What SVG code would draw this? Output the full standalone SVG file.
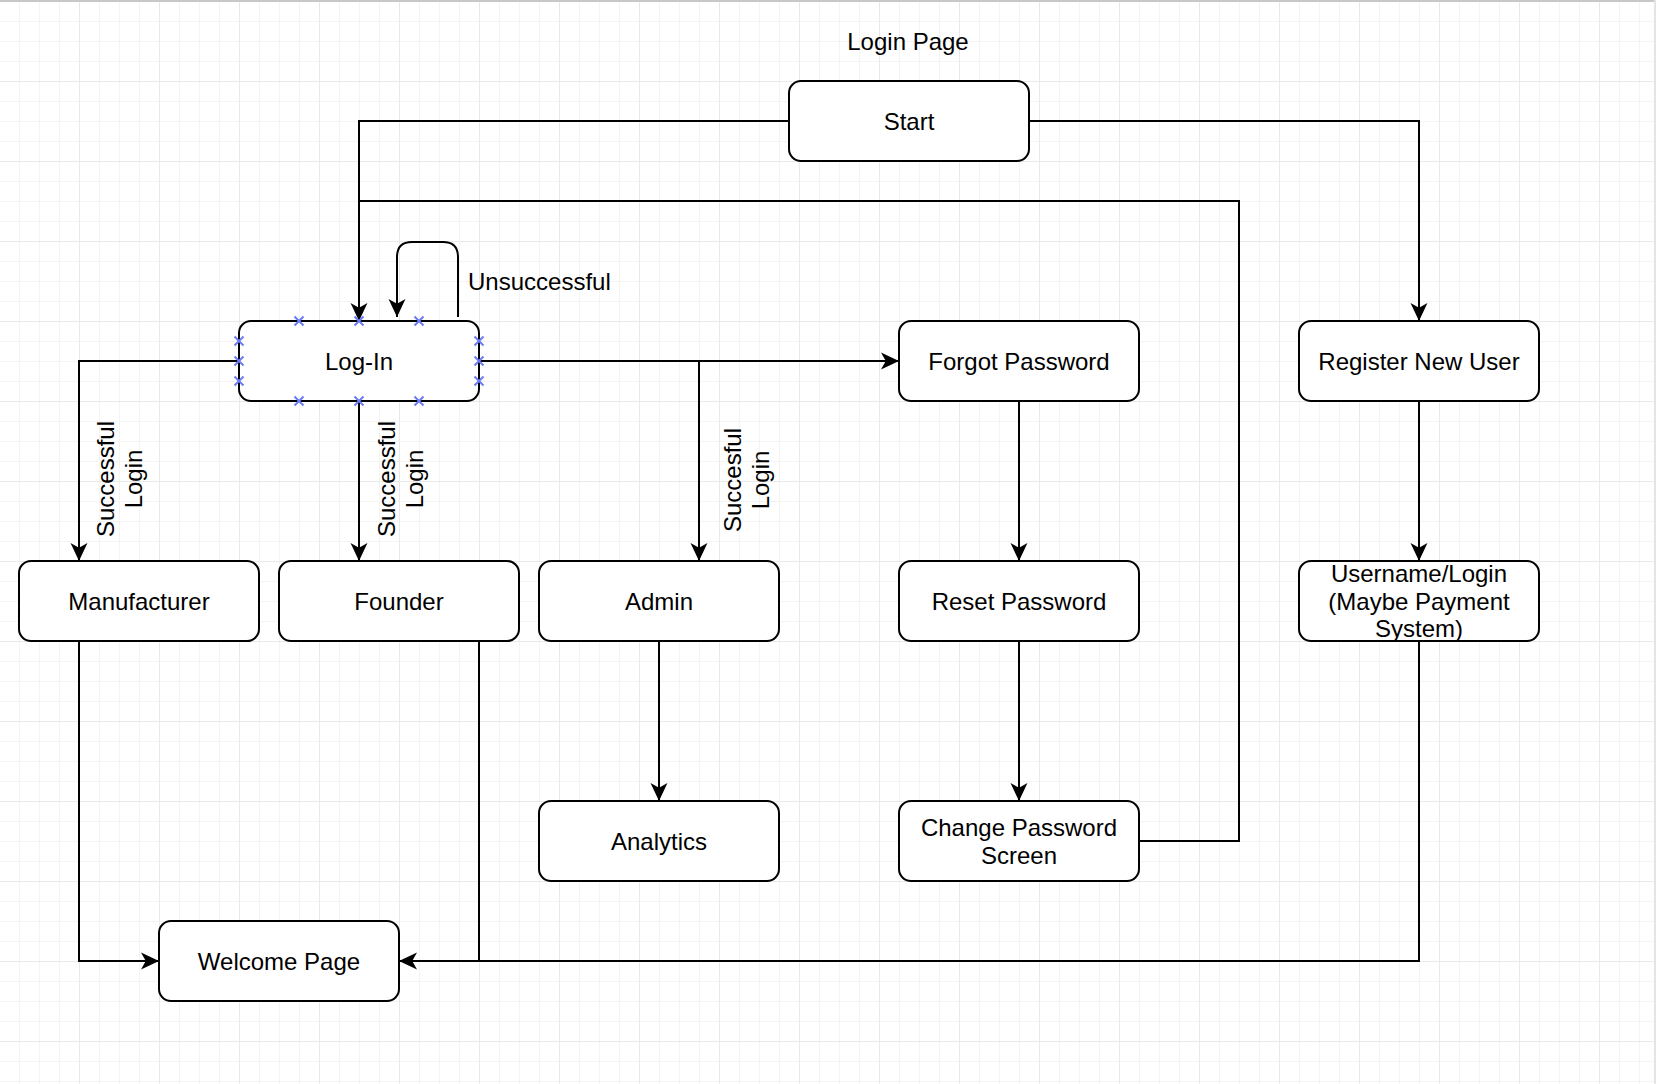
<svg xmlns="http://www.w3.org/2000/svg" width="1656" height="1084" viewBox="0 0 1656 1084">
  <defs>
    <!-- canvas grid: fine lines every 20px, stronger every 80px -->
    <pattern id="grid" x="-1" y="1" width="80" height="80" patternUnits="userSpaceOnUse">
      <rect x="0" y="0" width="80" height="80" fill="#ffffff"/>
      <g fill="#f4f4f4">
        <rect x="20" y="0" width="1" height="80"/>
        <rect x="40" y="0" width="1" height="80"/>
        <rect x="60" y="0" width="1" height="80"/>
        <rect x="0" y="20" width="80" height="1"/>
        <rect x="0" y="40" width="80" height="1"/>
        <rect x="0" y="60" width="80" height="1"/>
      </g>
      <g fill="#e9e9e9">
        <rect x="0" y="0" width="1" height="80"/>
        <rect x="0" y="0" width="80" height="1"/>
      </g>
    </pattern>
    <marker id="arrow" markerUnits="userSpaceOnUse" markerWidth="18" markerHeight="18" viewBox="0 0 17 16" refX="17" refY="8" orient="auto">
      <path d="M0,0 L17,8 L0,16 L4.5,8 Z" fill="#000"/>
    </marker>
    <style>
      .box { fill: #ffffff; stroke: #000000; stroke-width: 2; }
      .lbl { font-family: "Liberation Sans", Arial, Helvetica, sans-serif; font-size: 24px; fill: #000000; text-anchor: middle; }
      .edge { fill: none; stroke: #000000; stroke-width: 2; }
      .arr { marker-end: url(#arrow); }
      .pt { stroke: #6b7cf5; stroke-width: 2; fill: none; }
    </style>
  </defs>

  <!-- background -->
  <rect x="0" y="0" width="1656" height="1084" fill="url(#grid)"/>
  <rect x="0" y="0" width="1656" height="2" fill="#c8c8c8"/>
  <rect x="1654" y="0" width="2" height="1084" fill="#e4e4e4"/>

  <!-- title -->
  <text id="title" class="lbl" x="908" y="50">Login Page</text>

  <!-- connectors -->
  <g id="connectors">
    <path class="edge arr" d="M789,121 H359 V321"/>
    <path class="edge arr" d="M1029,121 H1419 V321"/>
    <path class="edge" d="M1139,841 H1239 V201 H359"/>
    <path class="edge arr" d="M458,317 V257 Q458,242 443,242 H412 Q397,242 397,257 V317"/>
    <path class="edge arr" d="M239,361 H79 V561"/>
    <path class="edge arr" d="M359,401 V561"/>
    <path class="edge arr" d="M479,361 H899"/>
    <path class="edge arr" d="M699,361 V561"/>
    <path class="edge arr" d="M1019,401 V561"/>
    <path class="edge arr" d="M1019,641 V801"/>
    <path class="edge arr" d="M1419,401 V561"/>
    <path class="edge arr" d="M659,641 V801"/>
    <path class="edge arr" d="M79,641 V961 H159"/>
    <path class="edge" d="M479,641 V961"/>
    <path class="edge arr" d="M1419,641 V961 H399"/>

    <!-- edge labels -->
    <text class="lbl" x="468" y="290" style="text-anchor:start">Unsuccessful</text>
    <g transform="translate(120,479) rotate(-90)">
      <text class="lbl" x="0" y="-6">Successful</text>
      <text class="lbl" x="0" y="22">Login</text>
    </g>
    <g transform="translate(401,479) rotate(-90)">
      <text class="lbl" x="0" y="-6">Successful</text>
      <text class="lbl" x="0" y="22">Login</text>
    </g>
    <g transform="translate(747,480) rotate(-90)">
      <text class="lbl" x="0" y="-6">Succesful</text>
      <text class="lbl" x="0" y="22">Login</text>
    </g>
  </g>

  <!-- nodes -->
  <g id="start">
    <rect class="box" x="789" y="81" width="240" height="80" rx="12"/>
    <text class="lbl" x="909" y="130">Start</text>
  </g>
  <g id="login">
    <rect class="box" x="239" y="321" width="240" height="80" rx="12"/>
    <text class="lbl" x="359" y="370">Log-In</text>
    <!-- connection points -->
    <path class="pt" d="M294.5,316.5 l9,9 m0,-9 l-9,9 M354.5,316.5 l9,9 m0,-9 l-9,9 M414.5,316.5 l9,9 m0,-9 l-9,9
                        M294.5,396.5 l9,9 m0,-9 l-9,9 M354.5,396.5 l9,9 m0,-9 l-9,9 M414.5,396.5 l9,9 m0,-9 l-9,9
                        M234.5,336.5 l9,9 m0,-9 l-9,9 M234.5,356.5 l9,9 m0,-9 l-9,9 M234.5,376.5 l9,9 m0,-9 l-9,9
                        M474.5,336.5 l9,9 m0,-9 l-9,9 M474.5,356.5 l9,9 m0,-9 l-9,9 M474.5,376.5 l9,9 m0,-9 l-9,9"/>
  </g>
  <g id="forgot-password">
    <rect class="box" x="899" y="321" width="240" height="80" rx="12"/>
    <text class="lbl" x="1019" y="370">Forgot Password</text>
  </g>
  <g id="register-new-user">
    <rect class="box" x="1299" y="321" width="240" height="80" rx="12"/>
    <text class="lbl" x="1419" y="370">Register New User</text>
  </g>
  <g id="manufacturer">
    <rect class="box" x="19" y="561" width="240" height="80" rx="12"/>
    <text class="lbl" x="139" y="610">Manufacturer</text>
  </g>
  <g id="founder">
    <rect class="box" x="279" y="561" width="240" height="80" rx="12"/>
    <text class="lbl" x="399" y="610">Founder</text>
  </g>
  <g id="admin">
    <rect class="box" x="539" y="561" width="240" height="80" rx="12"/>
    <text class="lbl" x="659" y="610">Admin</text>
  </g>
  <g id="reset-password">
    <rect class="box" x="899" y="561" width="240" height="80" rx="12"/>
    <text class="lbl" x="1019" y="610">Reset Password</text>
  </g>
  <g id="username-login">
    <rect class="box" x="1299" y="561" width="240" height="80" rx="12"/>
    <text class="lbl" x="1419" y="582">Username/Login</text>
    <text class="lbl" x="1419" y="610">(Maybe Payment</text>
    <text class="lbl" x="1419" y="637">System)</text>
  </g>
  <g id="analytics">
    <rect class="box" x="539" y="801" width="240" height="80" rx="12"/>
    <text class="lbl" x="659" y="850">Analytics</text>
  </g>
  <g id="change-password-screen">
    <rect class="box" x="899" y="801" width="240" height="80" rx="12"/>
    <text class="lbl" x="1019" y="836">Change Password</text>
    <text class="lbl" x="1019" y="864">Screen</text>
  </g>
  <g id="welcome-page">
    <rect class="box" x="159" y="921" width="240" height="80" rx="12"/>
    <text class="lbl" x="279" y="970">Welcome Page</text>
  </g>
</svg>
